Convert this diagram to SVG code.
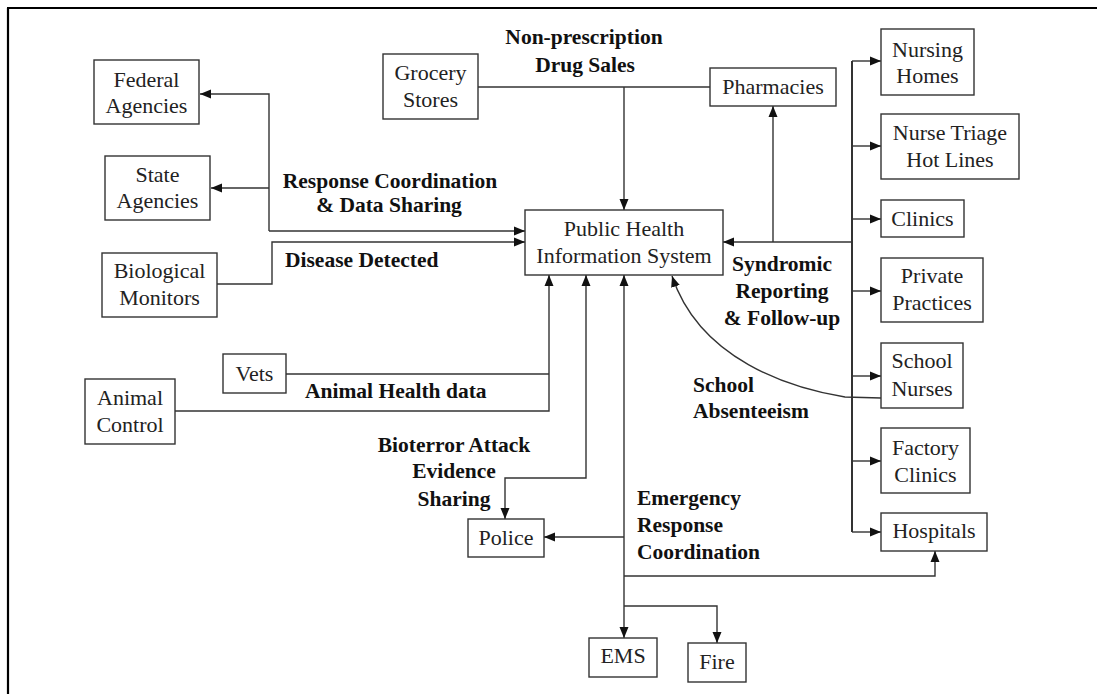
<svg xmlns="http://www.w3.org/2000/svg" width="1097" height="694" viewBox="0 0 1097 694">
<style>
.box{fill:#fff;stroke:#333;stroke-width:1.4}
.t{font-family:"Liberation Serif",serif;font-size:22px;fill:#222;text-anchor:middle}
.b{font-family:"Liberation Serif",serif;font-size:21.5px;font-weight:bold;fill:#111}
.c{fill:none;stroke:#333;stroke-width:1.4}
.a{marker-end:url(#ah)}
.s{marker-start:url(#ahs)}
</style>
<defs>
<marker id="ah" markerUnits="userSpaceOnUse" markerWidth="12" markerHeight="10" refX="11" refY="5" orient="auto">
<path d="M0,0.5 L11,5 L0,9.5 Z" fill="#111"/>
</marker>
<marker id="ahs" markerUnits="userSpaceOnUse" markerWidth="12" markerHeight="10" refX="1" refY="5" orient="auto">
<path d="M12,0.5 L1,5 L12,9.5 Z" fill="#111"/>
</marker>
</defs>
<rect width="1097" height="694" fill="#fff"/>
<g id="frame">
<line x1="8" y1="8" x2="8" y2="694" stroke="#000" stroke-width="2.2"/>
<line x1="7" y1="8" x2="1097" y2="8" stroke="#000" stroke-width="2"/>
</g>
<g id="connectors">
<path class="c a" d="M269,231 L269,94 L200,94"/>
<path class="c a" d="M269,188 L211,188"/>
<path class="c a" d="M269,231 L525,231"/>
<path class="c a" d="M217,284 L272,284 L272,242 L525,242"/>
<path class="c" d="M478,87 L710,87"/>
<path class="c a" d="M624,87 L624,210"/>
<path class="c a" d="M852,242 L723,242"/>
<path class="c a" d="M773,242 L773,106"/>
<path class="c" d="M852,61 L852,532" style="stroke-width:2"/>
<path class="c a" d="M852,61 L881,61"/>
<path class="c a" d="M852,146 L881,146"/>
<path class="c a" d="M852,219 L881,219"/>
<path class="c a" d="M852,291 L881,291"/>
<path class="c a" d="M852,376 L881,376"/>
<path class="c a" d="M852,461 L881,461"/>
<path class="c a" d="M852,532 L881,532"/>
<path class="c a" d="M881,398 L845,397 C790,388 700,360 672,276"/>
<path class="c" d="M286,374 L549,374"/>
<path class="c a" d="M175,411 L549,411 L549,275"/>
<path class="c s a" d="M586,275 L586,478 L505,478 L505,519"/>
<path class="c s a" d="M624,275 L624,638"/>
<path class="c a" d="M624,537 L544,537"/>
<path class="c a" d="M624,576 L935,576 L935,551"/>
<path class="c a" d="M624,606 L717,606 L717,643"/>
</g>
<g id="federal"><rect class="box" x="94" y="60" width="105" height="64"/><text class="t" x="146.5" y="87">Federal</text><text class="t" x="146.5" y="113">Agencies</text></g>
<g id="state"><rect class="box" x="105" y="156" width="105" height="64"/><text class="t" x="157.5" y="182">State</text><text class="t" x="157.5" y="208">Agencies</text></g>
<g id="grocery"><rect class="box" x="383" y="54" width="95" height="65"/><text class="t" x="430.5" y="80">Grocery</text><text class="t" x="430.5" y="107">Stores</text></g>
<g id="pharmacies"><rect class="box" x="710" y="68" width="126" height="38"/><text class="t" x="773" y="94">Pharmacies</text></g>
<g id="phis"><rect class="box" x="525" y="210" width="198" height="65"/><text class="t" x="624" y="236">Public Health</text><text class="t" x="624" y="263">Information System</text></g>
<g id="nursing-homes"><rect class="box" x="881" y="29" width="93" height="66"/><text class="t" x="927.5" y="57">Nursing</text><text class="t" x="927.5" y="83">Homes</text></g>
<g id="nurse-triage"><rect class="box" x="881" y="114" width="138" height="65"/><text class="t" x="950" y="140">Nurse Triage</text><text class="t" x="950" y="167">Hot Lines</text></g>
<g id="clinics"><rect class="box" x="881" y="200" width="83" height="37"/><text class="t" x="922.5" y="226">Clinics</text></g>
<g id="private-practices"><rect class="box" x="881" y="258" width="102" height="64"/><text class="t" x="932" y="283">Private</text><text class="t" x="932" y="310">Practices</text></g>
<g id="school-nurses"><rect class="box" x="881" y="343" width="82" height="65"/><text class="t" x="922" y="368">School</text><text class="t" x="922" y="396">Nurses</text></g>
<g id="factory-clinics"><rect class="box" x="881" y="428" width="89" height="65"/><text class="t" x="925.5" y="455">Factory</text><text class="t" x="925.5" y="482">Clinics</text></g>
<g id="hospitals"><rect class="box" x="881" y="513" width="106" height="38"/><text class="t" x="934" y="538">Hospitals</text></g>
<g id="biological"><rect class="box" x="102" y="253" width="115" height="64"/><text class="t" x="159.5" y="278">Biological</text><text class="t" x="159.5" y="305">Monitors</text></g>
<g id="vets"><rect class="box" x="223" y="354" width="63" height="39"/><text class="t" x="254.5" y="381">Vets</text></g>
<g id="animal-control"><rect class="box" x="85" y="379" width="90" height="65"/><text class="t" x="130" y="405">Animal</text><text class="t" x="130" y="432">Control</text></g>
<g id="police"><rect class="box" x="468" y="519" width="76" height="38"/><text class="t" x="506" y="545">Police</text></g>
<g id="ems"><rect class="box" x="589" y="638" width="68" height="39"/><text class="t" x="623" y="663">EMS</text></g>
<g id="fire"><rect class="box" x="688" y="643" width="58" height="39"/><text class="t" x="717" y="669">Fire</text></g>
<g id="labels">
<text class="b" x="584" y="44" text-anchor="middle">Non-prescription</text>
<text class="b" x="585" y="72" text-anchor="middle">Drug Sales</text>
<text class="b" x="390" y="188" text-anchor="middle">Response Coordination</text>
<text class="b" x="389" y="212" text-anchor="middle">&amp; Data Sharing</text>
<text class="b" x="285" y="267">Disease Detected</text>
<text class="b" x="305" y="398">Animal Health data</text>
<text class="b" x="782" y="271" text-anchor="middle">Syndromic</text>
<text class="b" x="782" y="298" text-anchor="middle">Reporting</text>
<text class="b" x="782" y="325" text-anchor="middle">&amp; Follow-up</text>
<text class="b" x="693" y="392">School</text>
<text class="b" x="693" y="418">Absenteeism</text>
<text class="b" x="454" y="452" text-anchor="middle">Bioterror Attack</text>
<text class="b" x="454" y="478" text-anchor="middle">Evidence</text>
<text class="b" x="454" y="506" text-anchor="middle">Sharing</text>
<text class="b" x="637" y="505">Emergency</text>
<text class="b" x="637" y="532">Response</text>
<text class="b" x="637" y="559">Coordination</text>
</g>
</svg>
